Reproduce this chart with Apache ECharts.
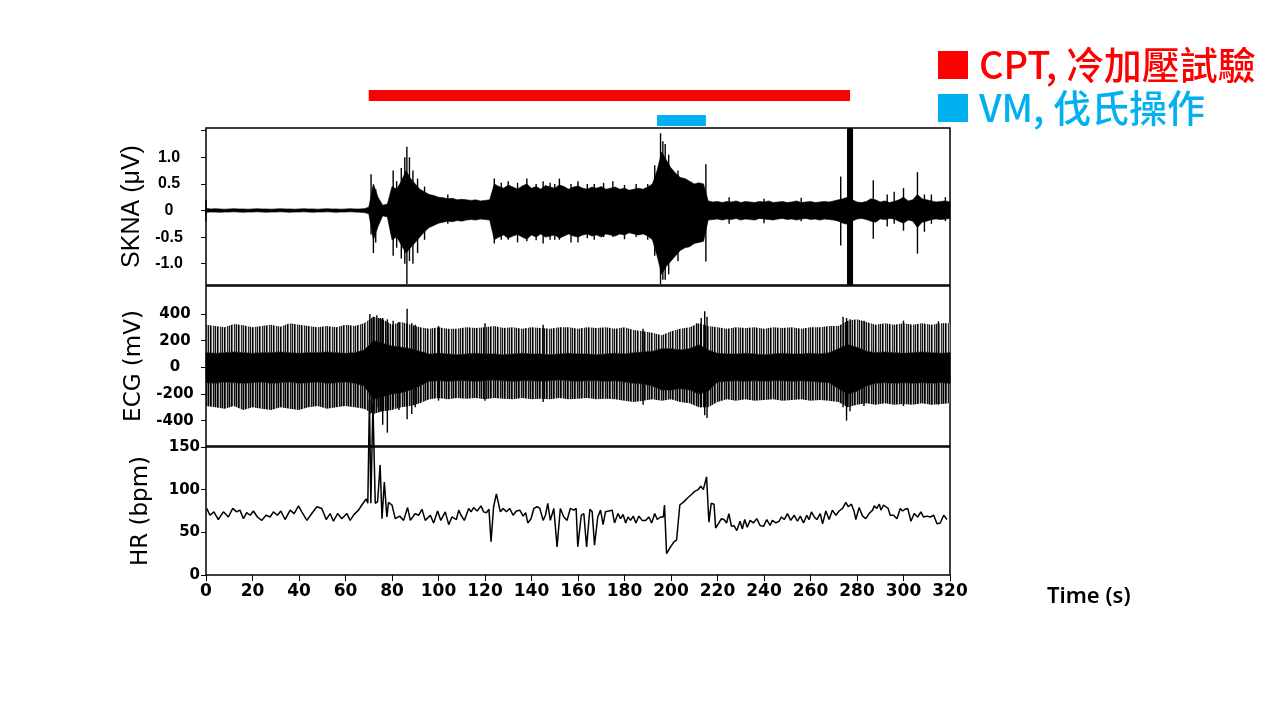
<!DOCTYPE html>
<html>
<head>
<meta charset="utf-8">
<title>SKNA / ECG / HR</title>
<script src="https://cdn.jsdelivr.net/npm/echarts@6/dist/echarts.min.js"></script>
<style>
  html, body { margin: 0; padding: 0; background: #fff; }
  #main { width: 1280px; height: 720px; }
</style>
</head>
<body>
<div id="main"></div>
<script>
// 刺激时段 (s)
var protocolNames = ['CPT, 冷加壓試驗', 'VM, 伐氏操作'];
var protocolStart = [70, 194];
var protocolEnd = [277, 215];

// SKNA 包络 (每 2 s 一个点, μV)
var sknaTime = [0,2,4,6,8,10,12,14,16,18,20,22,24,26,28,30,32,34,36,38,40,42,44,46,48,50,52,54,56,58,60,62,64,66,68,
  70,72,74,76,78,80,82,84,86,88,90,92,94,96,98,100,102,104,106,108,110,112,114,116,118,120,122,
  124,126,128,130,132,134,136,138,140,142,144,146,148,150,152,154,156,158,160,162,164,166,168,170,172,174,176,178,180,182,184,186,188,190,192,
  194,196,198,200,202,204,206,208,210,212,214,
  216,218,220,222,224,226,228,230,232,234,236,238,240,242,244,246,248,250,252,254,256,258,260,262,264,266,268,270,
  272,274,276,278,280,282,284,286,288,290,292,294,296,298,300,302,304,306,308,310,312,314,316,318,320];
var sknaUpper = [0.04,0.03,0.035,0.03,0.025,0.03,0.035,0.03,0.03,0.025,0.03,0.035,0.03,0.03,0.025,0.03,0.035,0.03,0.03,0.025,0.03,0.035,0.03,0.03,0.025,0.03,0.035,0.03,0.03,0.025,0.03,0.035,0.03,0.03,0.035,
  0.06,0.5,0.25,0.1,0.12,0.45,0.4,0.55,0.75,0.6,0.5,0.4,0.35,0.3,0.28,0.25,0.24,0.22,0.23,0.2,0.21,0.2,0.19,0.2,0.18,0.19,0.2,
  0.5,0.45,0.42,0.48,0.44,0.4,0.46,0.5,0.42,0.45,0.4,0.47,0.44,0.42,0.48,0.45,0.4,0.44,0.46,0.42,0.4,0.44,0.42,0.45,0.4,0.42,0.44,0.4,0.42,0.38,0.4,0.42,0.4,0.44,0.5,
  0.75,1.1,0.95,0.8,0.7,0.62,0.6,0.55,0.5,0.52,0.5,
  0.18,0.16,0.17,0.15,0.17,0.16,0.18,0.15,0.17,0.16,0.15,0.17,0.16,0.18,0.15,0.16,0.17,0.15,0.16,0.18,0.15,0.16,0.17,0.15,0.16,0.17,0.16,0.18,
  0.2,0.22,0.25,0.2,0.16,0.15,0.17,0.22,0.2,0.16,0.18,0.15,0.17,0.2,0.25,0.18,0.2,0.3,0.22,0.2,0.18,0.16,0.17,0.18,0.16];
var sknaLower = [-0.035,-0.03,-0.03,-0.035,-0.03,-0.03,-0.025,-0.03,-0.035,-0.03,-0.03,-0.025,-0.03,-0.035,-0.03,-0.03,-0.025,-0.03,-0.035,-0.03,-0.03,-0.025,-0.03,-0.035,-0.03,-0.03,-0.025,-0.03,-0.035,-0.03,-0.03,-0.025,-0.03,-0.035,-0.04,
  -0.06,-0.55,-0.3,-0.1,-0.12,-0.55,-0.5,-0.65,-0.8,-0.7,-0.6,-0.5,-0.4,-0.32,-0.28,-0.24,-0.22,-0.2,-0.21,-0.19,-0.2,-0.18,-0.17,-0.18,-0.16,-0.17,-0.18,
  -0.55,-0.5,-0.46,-0.52,-0.48,-0.45,-0.5,-0.54,-0.46,-0.5,-0.44,-0.5,-0.48,-0.46,-0.52,-0.48,-0.44,-0.48,-0.5,-0.46,-0.44,-0.48,-0.46,-0.5,-0.44,-0.46,-0.48,-0.44,-0.46,-0.42,-0.44,-0.46,-0.44,-0.48,-0.55,
  -0.85,-1.2,-1.05,-0.95,-0.85,-0.75,-0.7,-0.68,-0.62,-0.6,-0.58,
  -0.18,-0.17,-0.16,-0.18,-0.16,-0.17,-0.15,-0.18,-0.16,-0.17,-0.18,-0.15,-0.16,-0.17,-0.18,-0.16,-0.15,-0.17,-0.16,-0.18,-0.16,-0.15,-0.17,-0.16,-0.18,-0.16,-0.17,-0.18,
  -0.2,-0.24,-0.26,-0.2,-0.16,-0.15,-0.17,-0.2,-0.22,-0.16,-0.17,-0.15,-0.16,-0.2,-0.24,-0.18,-0.2,-0.32,-0.22,-0.2,-0.17,-0.16,-0.17,-0.16,-0.15];

// SKNA 单个尖峰 (276-278 s 为饱和段)
var sknaSpikeTime = [0,71,72,73,80.5,82,84,85.5,86.4,87.5,89,91,94,104,124,127,130,134,138,142,145,148,150,152,157,160,164,167,171,175,180,185,190,
  193,195.5,196.5,197.5,199,203,215,225,240,256,273,276,276.25,276.5,276.75,277,277.25,277.5,277.75,278,287,293,296,300,306,309,312,318];
var sknaSpikeTop = [0.2,0.68,0.45,0.4,0.75,0.55,0.8,1.0,1.2,1.0,0.75,0.6,0.45,0.3,0.6,0.52,0.55,0.52,0.6,0.5,0.55,0.52,0.5,0.6,0.5,0.55,0.5,0.5,0.52,0.55,0.48,0.5,0.5,
  0.85,1.45,1.3,1.25,1.05,0.75,0.87,0.25,0.22,0.24,0.64,1.55,1.55,1.55,1.55,1.55,1.55,1.55,1.55,1.55,0.57,0.3,0.35,0.42,0.72,0.3,0.3,0.25];
var sknaSpikeBottom = [-0.2,-0.45,-0.8,-0.6,-0.85,-0.7,-0.9,-1.0,-1.38,-0.95,-1.0,-0.8,-0.55,-0.25,-0.62,-0.55,-0.55,-0.6,-0.58,-0.56,-0.62,-0.55,-0.55,-0.55,-0.6,-0.6,-0.52,-0.55,-0.5,-0.5,-0.54,-0.5,-0.55,
  -0.85,-1.38,-1.3,-1.3,-1.2,-0.95,-0.96,-0.25,-0.24,-0.2,-0.66,-1.4,-1.4,-1.4,-1.4,-1.4,-1.4,-1.4,-1.4,-1.4,-0.53,-0.3,-0.25,-0.38,-0.81,-0.4,-0.25,-0.2];

// ECG 包络 (每 4 s 一个点, mV)
var ecgTime = [0,4,8,12,16,20,24,28,32,36,40,44,48,52,56,60,
  64,68,72,76,80,84,88,92,
  96,100,104,108,112,116,120,124,128,132,136,140,144,148,152,156,160,164,168,172,176,180,184,188,
  192,196,200,204,208,212,216,
  220,224,228,232,236,240,244,248,252,256,260,264,268,
  272,276,280,284,288,292,296,300,304,308,312,316,320];
var ecgUpper = [320,310,300,325,315,300,310,320,305,330,320,310,300,310,300,320,
  310,330,380,360,320,340,320,300,
  290,300,290,290,300,295,300,310,295,300,290,300,295,290,300,300,290,300,295,300,290,300,280,270,
  260,240,270,290,300,330,310,
  300,290,300,295,300,290,300,295,300,290,300,300,310,
  310,350,360,340,320,330,320,330,320,330,320,330,330];
var ecgLower = [-290,-300,-310,-290,-320,-300,-310,-320,-300,-310,-320,-300,-290,-310,-300,-290,
  -300,-310,-350,-330,-320,-300,-290,-270,
  -240,-230,-240,-230,-235,-230,-240,-230,-235,-240,-230,-240,-235,-240,-230,-240,-235,-230,-240,-235,-240,-250,-260,-250,
  -240,-250,-240,-260,-270,-300,-300,
  -260,-240,-250,-240,-250,-245,-240,-250,-245,-240,-250,-245,-250,
  -260,-300,-280,-270,-280,-270,-280,-275,-280,-270,-280,-275,-270];
var ecgCoreUpper = [110,105,110,115,110,105,110,110,115,110,105,110,110,115,110,105,
  110,130,200,180,160,150,140,120,
  100,105,100,95,100,105,100,100,95,100,105,100,100,95,100,105,100,100,95,100,105,100,110,115,
  120,140,140,130,140,170,130,
  105,100,100,105,100,95,100,105,100,100,105,100,110,
  140,170,150,120,110,115,110,105,110,115,110,105,110];
var ecgCoreLower = [-115,-120,-110,-115,-120,-115,-110,-120,-115,-110,-120,-115,-110,-120,-115,-110,
  -120,-140,-240,-220,-200,-190,-170,-140,
  -105,-100,-105,-100,-100,-105,-100,-95,-100,-105,-100,-100,-105,-100,-95,-100,-105,-100,-100,-105,-100,-110,-120,-125,
  -140,-170,-170,-160,-170,-200,-180,
  -110,-105,-100,-105,-100,-105,-100,-100,-105,-100,-105,-110,-115,
  -160,-200,-180,-140,-120,-115,-120,-115,-120,-115,-120,-115,-120];

// ECG 单个尖峰
var ecgSpikeTime = [70.5,72,73.5,75,76,78,80.5,83,86.5,88.5,90,100,120,145,188,211,213,214.5,215.5,274,275.5,277,283,300,315];
var ecgSpikeTop = [400,380,390,370,370,360,350,340,440,330,320,310,330,320,290,330,370,420,380,380,370,360,350,350,345];
var ecgSpikeBottom = [-350,-330,-300,-330,-430,-490,-300,-320,-390,-350,-300,-250,-250,-260,-280,-290,-300,-360,-380,-300,-400,-330,-290,-290,-280];

// 心率 (bpm)
var hrTime = [0.3,1.7,3.4,5.3,7.5,9.6,11.5,13.2,14.6,16.1,17.5,19,20.4,22.1,24,25.8,27.6,29,30.7,32.2,34,36.2,37.9,39.8,41.2,43.4,45.5,47.7,49.8,51.7,
  53.4,54.8,56.6,58.4,60.6,62,63.7,65.6,67,68.9,69.6,70.3,70.9,71.8,72.8,73.8,74.9,75.7,76.7,77.8,78.5,80,81.4,83.3,85,86.7,87.9,90,91.4,92.9,
  94.3,96.5,97.9,99.6,101,102.9,104.4,105.8,107.7,108.7,109.7,111.1,113,114,115.1,116.6,118.3,119.4,120.6,121.7,122.6,123.7,124.9,126.6,127.8,129.2,130.6,132.1,133.5,135,
  136.4,137.5,138.4,139.8,141,142.4,143.6,145,146,147,148.1,149.6,151,152.4,153.9,155.3,156.7,158.2,159.2,159.9,161.4,162.5,163.7,165.1,166.1,167.1,168.5,169.7,170.8,171.8,
  173.3,174.7,175.7,177.2,178.3,179.4,180.5,181.5,182.6,183.8,184.9,186.2,187.6,189.1,190.5,191.7,193,194.1,195.5,196.7,197.2,198.1,199.8,201.3,202.4,203.8,205.6,207,208.7,210.2,
  211.6,212.8,213.9,215.3,216.3,217.3,218.5,219.2,220.6,221.7,222.8,223.9,224.9,226,227.1,228.3,229.7,230.7,231.7,232.8,234,235.4,236.9,238.3,239.8,241.2,242.6,243.6,245.1,246.5,
  247.5,248.7,250.1,251.5,253,254.4,255.6,257,258.4,259.4,260.4,261.6,262.7,264.2,265.2,266.6,268,269.4,270.9,272.3,273.8,275.2,276.2,277.6,278.8,279.5,280.9,282.4,283.8,285.2,
  286.7,287.4,288.5,289.6,290.3,291.4,292.4,293.4,294.3,295.7,297.2,298.6,299.6,300.6,301.8,303.2,304.6,306.1,307.5,308.6,310.1,311.5,313,314.4,315.8,317.3,318.7];
var hrValue = [78,70,74,65,74,68,78,74,76,66,73,70,75,68,64,70,68,74,70,75,65,76,72,81,74,64,72,80,78,65,
  72,63,72,66,72,64,71,76,82,89,84,205,84,200,84,86,129,66,109,68,85,82,66,69,64,79,64,72,70,77,
  64,70,61,75,64,74,59,68,65,76,70,64,78,74,79,75,81,74,73,77,39,80,95,74,78,74,78,70,75,76,
  69,73,61,66,78,80,78,64,70,84,64,78,33,78,68,64,78,76,78,33,70,72,33,77,74,35,68,76,59,74,
  75,76,61,72,66,71,61,68,64,69,61,69,64,64,68,61,72,65,68,68,82,25,33,39,41,82,86,90,94,98,
  100,104,100,115,62,84,83,55,61,66,65,61,72,57,58,52,63,54,65,56,64,61,66,58,57,65,58,64,61,63,
  68,65,72,64,70,63,69,61,70,65,74,68,65,72,60,75,65,76,70,75,78,85,80,83,74,65,79,69,66,72,
  76,81,78,83,76,82,80,78,70,70,66,78,75,77,78,63,72,68,74,68,69,68,70,60,61,70,65];

// 刻度
var timeTicks = [0, 20, 40, 60, 80, 100, 120, 140, 160, 180, 200, 220, 240, 260, 280, 300, 320];
var sknaTicks = [-1, -0.5, 0, 0.5, 1];
var ecgTicks = [-400, -200, 0, 200, 400];

var chart = echarts.init(document.getElementById('main'));

var tickFont = 'DejaVu Sans';
var plotLeft = 206, plotRight = 330;

// 竖条纹理，模仿密集的心电波形
function stripePattern(cols) {
  var c = document.createElement('canvas');
  c.width = cols.length;
  c.height = 2;
  var ctx = c.getContext('2d');
  for (var i = 0; i < cols.length; i++) {
    ctx.fillStyle = cols[i];
    ctx.fillRect(i, 0, 1, 2);
  }
  return { image: c, repeat: 'repeat' };
}
var ecgUpperFill = stripePattern(['#000', '#6a6a6a', '#e6e6e6', '#2a2a2a', '#9a9a9a', '#111', '#cfcfcf']);
var ecgLowerFill = stripePattern(['#000', '#3c3c3c', '#bdbdbd', '#111', '#6e6e6e', '#000', '#999']);

// 上下包络画成一个多边形
function bandRender(times, upper, lower, color) {
  return function (params, api) {
    var pts = [];
    for (var i = 0; i < times.length; i++) {
      pts.push(api.coord([times[i], upper[i]]));
    }
    for (var j = times.length - 1; j >= 0; j--) {
      pts.push(api.coord([times[j], lower[j]]));
    }
    var solid = typeof color === 'string';
    return {
      type: 'polygon',
      shape: { points: pts },
      style: { fill: color, stroke: solid ? color : null, lineWidth: 0.6 }
    };
  };
}

// 竖直尖峰线
function spikeRender(params, api) {
  var a = api.coord([api.value(0), api.value(1)]);
  var b = api.coord([api.value(0), api.value(2)]);
  return {
    type: 'line',
    shape: { x1: a[0], y1: a[1], x2: b[0], y2: b[1] },
    style: { stroke: '#000', lineWidth: 1.4 }
  };
}

function protocolRender(params, api) {
  var s = api.coord([api.value(0), api.value(2)]);
  var e = api.coord([api.value(1), api.value(2)]);
  var h = 11;
  return {
    type: 'rect',
    shape: { x: s[0], y: s[1] - h / 2, width: e[0] - s[0], height: h },
    style: { fill: api.visual('color') }
  };
}

function zip3(a, b, c) {
  return a.map(function (v, i) { return [v, b[i], c[i]]; });
}

var hiddenX = function (idx) {
  return { type: 'value', gridIndex: idx, min: 0, max: 320, show: false };
};

var option = {
  backgroundColor: '#fff',
  animation: false,
  legend: {
    orient: 'vertical',
    left: 938,
    top: 46,
    padding: 0,
    itemWidth: 30,
    itemHeight: 28,
    itemGap: 5,
    icon: 'rect',
    selectedMode: false,
    textStyle: { fontSize: 38, fontWeight: 500, fontFamily: 'Noto Sans CJK TC', padding: [0, 0, 0, 6] },
    data: [
      { name: protocolNames[0], textStyle: { color: '#ff0000' } },
      { name: protocolNames[1], textStyle: { color: '#00b0f0' } }
    ]
  },
  grid: [
    { left: plotLeft, right: plotRight, top: 128, height: 157, show: true, borderColor: '#000', borderWidth: 1.5, backgroundColor: 'transparent' },
    { left: plotLeft, right: plotRight, top: 286, height: 160, show: true, borderColor: '#000', borderWidth: 1.5, backgroundColor: 'transparent' },
    { left: plotLeft, right: plotRight, top: 447, height: 128, show: true, borderColor: '#000', borderWidth: 1.5, backgroundColor: 'transparent' },
    { left: plotLeft, right: plotRight, top: 83, height: 50 }
  ],
  xAxis: [
    hiddenX(0),
    hiddenX(1),
    {
      type: 'value', gridIndex: 2, min: 0, max: 320,
      axisLine: { show: false },
      axisTick: { show: true, length: 6, lineStyle: { color: '#000', width: 1 }, customValues: timeTicks },
      axisLabel: {
        customValues: timeTicks, margin: 8, color: '#000',
        fontFamily: tickFont, fontWeight: 'bold', fontSize: 17
      },
      splitLine: { show: false }
    },
    hiddenX(3)
  ],
  yAxis: [
    {
      type: 'value', gridIndex: 0, min: -1.4, max: 1.55,
      axisLine: { show: false },
      axisTick: { show: true, length: 5, lineStyle: { color: '#000' }, customValues: [-1, -0.5, 0, 0.5, 1, 1.5] },
      axisLabel: {
        customValues: sknaTicks, margin: 37, align: 'center', color: '#000',
        fontFamily: 'Liberation Sans', fontWeight: 'bold', fontSize: 16,
        formatter: function (v) { return v === 0 ? '0' : v.toFixed(1); }
      },
      splitLine: { show: false },
      name: 'SKNA (μV)', nameLocation: 'middle', nameGap: 55,
      nameTextStyle: { color: '#000', fontSize: 25, fontFamily: 'Liberation Sans' }
    },
    {
      type: 'value', gridIndex: 1, min: -590, max: 610,
      axisLine: { show: false },
      axisTick: { show: true, length: 5, lineStyle: { color: '#000' }, customValues: ecgTicks },
      axisLabel: {
        customValues: ecgTicks, margin: 31, align: 'center', color: '#000',
        fontFamily: tickFont, fontWeight: 'bold', fontSize: 15
      },
      splitLine: { show: false },
      name: 'ECG (mV)', nameLocation: 'middle', nameGap: 53,
      nameTextStyle: { color: '#000', fontSize: 23, fontFamily: 'DejaVu Sans' }
    },
    {
      type: 'value', gridIndex: 2, min: 0, max: 150, interval: 50,
      axisLine: { show: false },
      axisTick: { show: true, length: 5, lineStyle: { color: '#000' } },
      axisLabel: {
        margin: 6, color: '#000',
        fontFamily: tickFont, fontWeight: 'bold', fontSize: 15
      },
      splitLine: { show: false },
      name: 'HR (bpm)', nameLocation: 'middle', nameGap: 53,
      nameTextStyle: { color: '#000', fontSize: 23, fontFamily: 'DejaVu Sans' }
    },
    {
      type: 'category', gridIndex: 3, data: protocolNames, inverse: true, show: false
    }
  ],
  graphic: [
    {
      type: 'text', left: 1047, top: 586,
      style: { text: 'Time (s)', fill: '#000', font: '600 22px "Noto Sans"' }
    }
  ],
  series: [
    // ECG 上半外包络
    {
      type: 'custom', xAxisIndex: 1, yAxisIndex: 1, silent: true,
      renderItem: bandRender(ecgTime, ecgUpper, ecgCoreUpper, ecgUpperFill),
      data: [[0, 0]]
    },
    // ECG 下半外包络
    {
      type: 'custom', xAxisIndex: 1, yAxisIndex: 1, silent: true,
      renderItem: bandRender(ecgTime, ecgCoreLower, ecgLower, ecgLowerFill),
      data: [[0, 0]]
    },
    // ECG 中心带
    {
      type: 'custom', xAxisIndex: 1, yAxisIndex: 1, silent: true,
      renderItem: bandRender(ecgTime, ecgCoreUpper, ecgCoreLower, '#000'),
      data: [[0, 0]]
    },
    {
      type: 'custom', xAxisIndex: 1, yAxisIndex: 1, silent: true,
      renderItem: spikeRender,
      encode: { x: 0, y: [1, 2] },
      data: zip3(ecgSpikeTime, ecgSpikeTop, ecgSpikeBottom)
    },
    // SKNA
    {
      type: 'custom', xAxisIndex: 0, yAxisIndex: 0, silent: true,
      renderItem: bandRender(sknaTime, sknaUpper, sknaLower, '#000'),
      data: [[0, 0]]
    },
    {
      type: 'custom', xAxisIndex: 0, yAxisIndex: 0, silent: true,
      renderItem: spikeRender,
      encode: { x: 0, y: [1, 2] },
      data: zip3(sknaSpikeTime, sknaSpikeTop, sknaSpikeBottom)
    },
    // 心率
    {
      type: 'line', xAxisIndex: 2, yAxisIndex: 2,
      symbol: 'none', clip: false, silent: true,
      lineStyle: { color: '#000', width: 1.5 },
      data: hrTime.map(function (t, i) { return [t, hrValue[i]]; })
    },
    // 刺激条
    {
      name: protocolNames[0], type: 'custom', xAxisIndex: 3, yAxisIndex: 3,
      itemStyle: { color: '#ff0000' },
      renderItem: protocolRender,
      encode: { x: [0, 1], y: 2 },
      data: [[protocolStart[0], protocolEnd[0], 0]]
    },
    {
      name: protocolNames[1], type: 'custom', xAxisIndex: 3, yAxisIndex: 3,
      itemStyle: { color: '#00b0f0' },
      renderItem: protocolRender,
      encode: { x: [0, 1], y: 2 },
      data: [[protocolStart[1], protocolEnd[1], 1]]
    }
  ]
};

chart.setOption(option);
</script>
</body>
</html>
